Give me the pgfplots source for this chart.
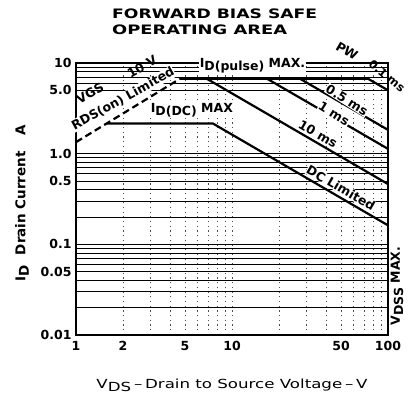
\documentclass[border=0pt]{standalone}
\usepackage{pgfplots}
\pgfplotsset{compat=1.18}
\usepackage{fontspec}
\usepackage{graphicx}
\setmainfont{DejaVu Sans}
\begin{document}
\begin{tikzpicture}
\useasboundingbox (-76pt,-67pt) rectangle (333pt,335pt);
\begin{axis}[
  at={(0pt,0pt)}, anchor=south west,
  scale only axis, width=312pt, height=272pt,
  xmode=log, ymode=log,
  xmin=1, xmax=100, ymin=0.01, ymax=10,
  xtick={1,2,5,10,50,100}, xticklabels={1,2,5,10,50,100},
  ytick={0.01,0.05,0.1,0.5,1,5,10}, yticklabels={0.01,0.05,0.1,0.5,1.0,5.0,10},
  minor xtick={3,4,6,7,8,9,20,30,40,60,70,80,90},
  minor ytick={0.02,0.03,0.04,0.06,0.07,0.08,0.09,0.2,0.3,0.4,0.6,0.7,0.8,0.9,6,7,8,9},
  xmajorgrids, xminorgrids, ymajorgrids, yminorgrids,
  x grid style={black!70, line width=0.6pt, dash pattern=on 1.2pt off 3.5pt},
  y grid style={black, line width=0.8pt},
  major tick length=0pt, minor tick length=0pt,
  axis line style={line width=1.5pt},
  ticklabel style={font=\fontsize{12.5}{14}\selectfont\bfseries},
  xticklabel style={yshift=-3pt},
  yticklabel style={xshift=-1pt},
  clip=false,
]
% RDS(on) limited
\addplot[black, line width=2.2pt, dash pattern=on 7pt off 4pt] coordinates {(1,1.34) (4.64,6.7)};
% ID(DC) max and DC limited
\addplot[black, line width=2.2pt] coordinates {(1.57,2.15) (7.55,2.15) (100,0.162)};
% ID(pulse) max and 0.1 ms
\addplot[black, line width=2.2pt] coordinates {(4.64,6.7) (74.5,6.7) (100,5.0)};
% 0.5 ms
\addplot[black, line width=2.2pt] coordinates {(27.3,6.7) (100,1.83)};
% 1 ms
\addplot[black, line width=2.2pt] coordinates {(16.8,6.7) (100,1.13)};
% 10 ms
\addplot[black, line width=2.2pt] coordinates {(6.9,6.7) (100,0.462)};
\end{axis}
% titles and labels
\node[anchor=west, inner sep=0pt] at (36pt,321pt) {\resizebox{205pt}{\height}{\fontsize{13}{14}\selectfont\bfseries FORWARD BIAS SAFE}};
\node[anchor=west, inner sep=0pt] at (36pt,305pt) {\resizebox{175pt}{\height}{\fontsize{13}{14}\selectfont\bfseries OPERATING AREA}};
\node[inner sep=0pt] at (156pt,-50pt) {\resizebox{271pt}{\height}{\fontsize{12.5}{14}\selectfont V\raisebox{-0.45ex}{DS}\,--\,Drain to Source Voltage\,--\,V}};
\node[rotate=90, inner sep=0pt] at (-54pt,132pt) {\fontsize{13.5}{15}\selectfont\bfseries I\raisebox{-0.45ex}{D}\hspace{10pt}Drain Current\hspace{16pt}A};
\node[rotate=90, inner sep=0pt] at (321pt,49pt) {\fontsize{12.5}{14}\selectfont\bfseries V\raisebox{-0.45ex}{DSS}\,\,MAX.};
% in-plot labels
\begin{scope}[every node/.style={inner sep=0.6pt, font=\fontsize{12.5}{14}\selectfont\bfseries}]
\node[rotate=30] at (14pt,242pt) {VGS};
\node[rotate=30] at (66pt,268pt) {10 V};
\node[rotate=29, fill=white] at (47pt,236pt) {RDS(on) Limited};
\node[anchor=west, fill=white] at (123pt,269pt) {I\raisebox{-0.45ex}{D(pulse)} MAX.};
\node[anchor=west, fill=white] at (74pt,225pt) {I\raisebox{-0.45ex}{D(DC)} MAX};
\node[rotate=-30] at (271pt,284pt) {PW};
\node[rotate=-40, font=\fontsize{11.5}{13}\selectfont\bfseries] at (311pt,259pt) {0.1 ms};
\node[rotate=-32, fill=white] at (271pt,235pt) {0.5 ms};
\node[rotate=-32, fill=white] at (258pt,221pt) {1 ms};
\node[rotate=-30, fill=white] at (242pt,201pt) {10 ms};
\node[rotate=-30, fill=white] at (265pt,147pt) {DC Limited};
\end{scope}
\end{tikzpicture}
\end{document}
